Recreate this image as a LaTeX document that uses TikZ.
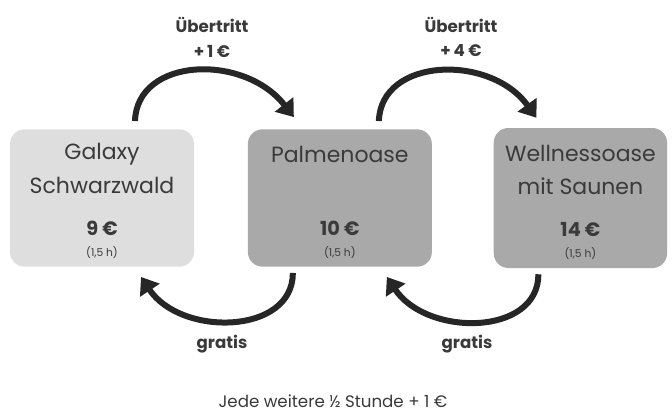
\documentclass[tikz,border=0pt]{standalone}
\usepackage{fontspec}
\setmainfont{Poppins}
\usetikzlibrary{positioning, arrows.meta}

\definecolor{boxlight}{HTML}{DEDEDE}
\definecolor{boxdark}{HTML}{A9A9A9}
\definecolor{ink}{HTML}{3A3A3A}
\definecolor{arrowink}{HTML}{262626}

\begin{document}
\begin{tikzpicture}[x=0.75pt, y=-0.75pt, node distance=40pt, text=ink,
    bath/.style={rounded corners=11pt, minimum width=138pt, minimum height=103pt, inner sep=0pt},
    title/.style={font=\fontsize{16.5}{16.5}\selectfont},
    price/.style={font=\bfseries\fontsize{14.5}{14.5}\selectfont},
    dur/.style={font=\fontsize{8}{8}\selectfont},
    lbl/.style={font=\bfseries\fontsize{12.5}{12.5}\selectfont},
    swing/.style={draw=arrowink, line width=4.5pt, -{Triangle[width=17pt, length=12pt]}}]
    \useasboundingbox (0,0) rectangle (672,412);

    % the three baths
    \node[bath, fill=boxlight] (gal) at (102,198) {};
    \node[bath, fill=boxdark] (pal) [right=40pt of gal] {};
    \node[bath, fill=boxdark, minimum width=130pt, minimum height=105pt] (wel) [right=46pt of pal] {};

    \node[title] (galname1) at ([yshift=-19pt]gal.north) {Galaxy};
    \node[title] (galname2) [below=25pt of galname1.base, anchor=base] {Schwarzwald};
    \node[title] (palname) at ([yshift=-19pt]pal.north) {Palmenoase};
    \node[title] (welname1) at ([yshift=-19pt]wel.north) {Wellnessoase};
    \node[title] (welname2) [below=25pt of welname1.base, anchor=base] {mit Saunen};

    \node[price] (galprice) at ([yshift=29pt]gal.south) {9 €};
    \node[price] (palprice) at ([yshift=29pt]pal.south) {10 €};
    \node[price] (welprice) at ([yshift=29pt]wel.south) {14 €};
    \node[dur] (galtime) at ([yshift=11pt]gal.south) {(1,5 h)};
    \node[dur] (paltime) at ([yshift=11pt]pal.south) {(1,5 h)};
    \node[dur] (weltime) at ([yshift=11pt]wel.south) {(1,5 h)};

    % ends of the arrows
    \coordinate (up1a) at ([shift={(33,-8)}]gal.north);
    \coordinate (up1b) at ([shift={(-46,-12)}]pal.north);
    \coordinate (up2a) at ([shift={(39,-8)}]pal.north);
    \coordinate (up2b) at ([shift={(-44,-10)}]wel.north);
    \coordinate (dn1a) at ([shift={(-47,6)}]pal.south);
    \coordinate (dn1b) at ([shift={(39,10)}]gal.south);
    \coordinate (dn2a) at ([shift={(-42,6)}]wel.south);
    \coordinate (dn2b) at ([shift={(47,10)}]pal.south);

    % Uebertritt (upwards)
    \path[swing] (up1a) .. controls +(2,-64) and +(-50,-64) .. (up1b);
    \path[swing] (up2a) .. controls +(2,-64) and +(-46,-64) .. (up2b);
    % gratis (back)
    \path[swing] (dn1a) .. controls +(0,62) and +(40,60) .. (dn1b);
    \path[swing] (dn2a) .. controls +(0,62) and +(40,60) .. (dn2b);

    % labels
    \node[lbl] (lbl1a) at (212,25) {Übertritt};
    \node[lbl] (lbl1b) at (212,51) {+\,1 €};
    \node[lbl] (lbl2a) at (461,25) {Übertritt};
    \node[lbl] (lbl2b) at (461,51) {+\,4 €};
    \node[lbl] (free1) at (222,344) {gratis};
    \node[lbl] (free2) at (467,344) {gratis};
    \node[font=\fontsize{12.5}{12.5}\selectfont] (extra) at (333,401) {Jede weitere ½ Stunde + 1 €};
\end{tikzpicture}
\end{document}
